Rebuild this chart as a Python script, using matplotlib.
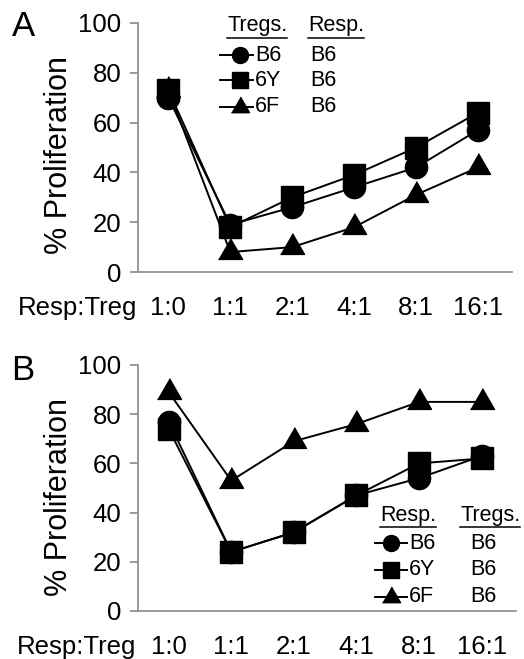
import matplotlib
matplotlib.use("Agg")
import matplotlib.pyplot as plt
from matplotlib.lines import Line2D
import numpy as np

plt.rcParams['font.family'] = ['Liberation Sans', 'DejaVu Sans']

categories = ["1:0", "1:1", "2:1", "4:1", "8:1", "16:1"]
series_names = ["B6", "6Y", "6F"]

a_b6 = [70, 19, 26, 34, 42, 57]
a_6y = [73, 18, 30, 39, 50, 64]
a_6f = [73, 8, 10, 18, 31, 42]

b_b6 = [77, 24, 32, 47, 54, 63]
b_6y = [74, 24, 32, 47, 60, 62]
b_6f = [89, 53, 69, 76, 85, 85]

yticks = [0, 20, 40, 60, 80, 100]

GREY = "#8a8a8a"
TRI = [(-1, -0.577), (1, -0.577), (0, 1.155)]
markers = {"B6": ("o", 16), "6Y": ("s", 15.5), "6F": (TRI, 20)}
leg_markers = {"B6": ("o", 11.5), "6Y": ("s", 11), "6F": (TRI, 15)}

fig = plt.figure(figsize=(5.24, 6.59), dpi=100)
axA = fig.add_axes([138/524, 1-272/659, 374/524, 249/659])
axB = fig.add_axes([138/524, 1-611/659, 378/524, 246/659])

XPAD = 17


def style(ax, ylab_y):
    x = np.arange(len(categories))
    ax.set_xlim(-0.49, 5.55)
    ax.set_ylim(0, 100)
    ax.set_xticks(x)
    ax.set_xticklabels(categories, fontsize=18.5)
    ax.set_yticks(yticks)
    ax.set_yticklabels([str(v) for v in yticks], fontsize=18.5)
    for s in ["top", "right"]:
        ax.spines[s].set_visible(False)
    for s in ["left", "bottom"]:
        ax.spines[s].set_color(GREY)
        ax.spines[s].set_linewidth(1.2)
    ax.tick_params(axis="x", length=0, pad=XPAD)
    ax.tick_params(axis="y", length=6, width=1.2, color=GREY, pad=6)
    ax.set_ylabel("% Proliferation", fontsize=22)
    ax.yaxis.label.set_va("center")
    ax.yaxis.set_label_coords(-0.21, ylab_y)
    tr, va, ha = ax.get_xaxis_text1_transform(XPAD)
    ax.text(ax.get_xlim()[0] - 0.02, 0, "Resp:Treg", transform=tr, va=va,
            ha="right", fontsize=18.5)


def draw(ax, series):
    x = np.arange(len(categories))
    for name in ["6F", "B6", "6Y"]:
        m, ms = markers[name]
        ax.plot(x, series[name], color="black", lw=1.4, marker=m,
                markersize=ms, markerfacecolor="black",
                markeredgecolor="black", clip_on=False, zorder=3)


def legend(ax, head1, head2, x_h1, x_h2, y_head, y_ul, rows_y, x_line, x_mark,
           x_lab, x_col2, col2):
    fs = 15.5
    t1 = ax.text(x_h1, y_head, head1, transform=ax.transAxes, fontsize=fs,
                 va="center", ha="left")
    t2 = ax.text(x_h2, y_head, head2, transform=ax.transAxes, fontsize=fs,
                 va="center", ha="left")
    fig.canvas.draw()
    r = fig.canvas.get_renderer()
    inv = ax.transAxes.inverted()
    for t in (t1, t2):
        bb = t.get_window_extent(r)
        (x0, _), (x1, _) = inv.transform([(bb.x0, bb.y0), (bb.x1, bb.y0)])
        ax.add_line(Line2D([x0, x1], [y_ul, y_ul], transform=ax.transAxes,
                           color="black", lw=1.1, clip_on=False))
    for name, yy, c2 in zip(series_names, rows_y, col2):
        m, ms = leg_markers[name]
        ax.add_line(Line2D(list(x_line), [yy, yy], transform=ax.transAxes,
                           color="black", lw=1.4, clip_on=False))
        ax.add_line(Line2D([x_mark], [yy], transform=ax.transAxes, marker=m,
                           markersize=ms, color="black", clip_on=False))
        ax.text(x_lab, yy, name, transform=ax.transAxes, fontsize=fs,
                va="center", ha="left")
        ax.text(x_col2, yy, c2, transform=ax.transAxes, fontsize=fs,
                va="center", ha="left")


style(axA, 0.47)
style(axB, 0.465)
draw(axA, {"B6": a_b6, "6Y": a_6y, "6F": a_6f})
draw(axB, {"B6": b_b6, "6Y": b_6y, "6F": b_6f})

legend(axA, "Tregs.", "Resp.", 0.238, 0.455, 0.99, 0.94,
       [0.871, 0.771, 0.663], (0.219, 0.308), 0.272, 0.313, 0.46,
       ["B6", "B6", "B6"])
legend(axB, "Resp.", "Tregs.", 0.640, 0.852, 0.388, 0.34,
       [0.276, 0.167, 0.057], (0.627, 0.712), 0.669, 0.717, 0.878,
       ["B6", "B6", "B6"])

fig.text(12/524, 1-26/659, "A", fontsize=25, va="center", ha="left")
fig.text(11/524, 1-370/659, "B", fontsize=25, va="center", ha="left")

fig.savefig("out.png", dpi=100)
